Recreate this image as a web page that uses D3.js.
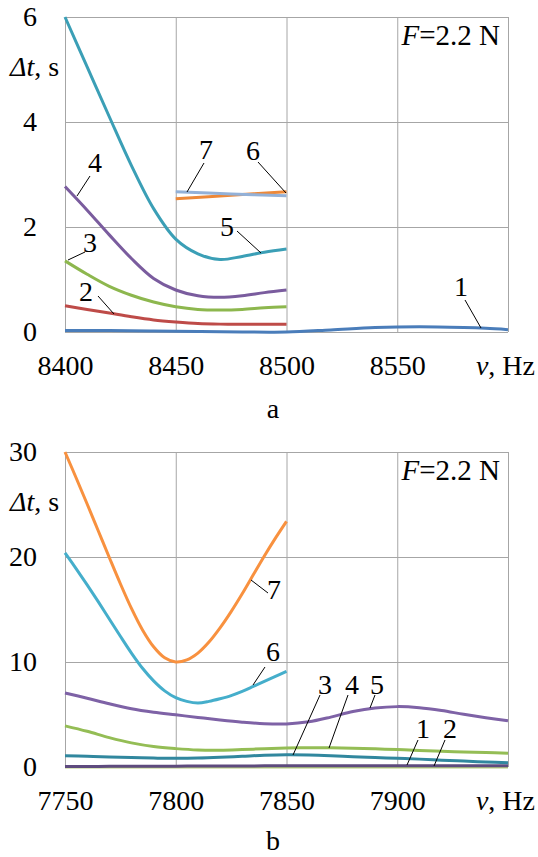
<!DOCTYPE html>
<html>
<head>
<meta charset="utf-8">
<script src="https://cdn.jsdelivr.net/npm/d3@7"></script>
<style>
  html, body { margin: 0; padding: 0; background: #fff; }
  svg text { font-family: "Liberation Serif", "Times New Roman", "DejaVu Serif", serif; fill: #000; }
</style>
</head>
<body>
<svg id="chart" width="538" height="857"></svg>
<script>
// ---------- Panel a (F = 2.2 N, 8400–8600 Hz) ----------
const aXTicks = [8400, 8450, 8500, 8550, 8600];
const aYTicks = [0, 2, 4, 6];
const aFreq = [8400, 8410, 8420, 8430, 8440, 8450, 8460, 8470, 8480, 8490, 8500];
const aFreq1 = [8400, 8420, 8440, 8460, 8480, 8500, 8520, 8540, 8560, 8580, 8590, 8600];
const aFreq67 = [8450, 8475, 8500];
const a1 = [0.03, 0.03, 0.02, 0.01, 0.0, 0.0, 0.04, 0.085, 0.10, 0.085, 0.07, 0.045];
const a2 = [0.50, 0.43, 0.36, 0.29, 0.23, 0.19, 0.16, 0.15, 0.15, 0.15, 0.15];
const a3 = [1.355, 1.10, 0.87, 0.70, 0.57, 0.48, 0.43, 0.42, 0.43, 0.46, 0.48];
const a4 = [2.77, 2.32, 1.85, 1.40, 1.02, 0.80, 0.69, 0.66, 0.69, 0.75, 0.80];
const a5 = [6.0, 5.05, 4.10, 3.17, 2.35, 1.77, 1.49, 1.38, 1.44, 1.52, 1.58];
const a6 = [2.54, 2.605, 2.67];
const a7 = [2.67, 2.63, 2.595];

// ---------- Panel b (F = 2.2 N, 7750–7950 Hz) ----------
const bXTicks = [7750, 7800, 7850, 7900, 7950];
const bYTicks = [0, 10, 20, 30];
const bFreq = [7750, 7760, 7770, 7780, 7790, 7800, 7810, 7820, 7830, 7840, 7850,
               7860, 7870, 7880, 7890, 7900, 7910, 7920, 7930, 7940, 7950];
const bFreq67 = [7750, 7755, 7760, 7765, 7770, 7775, 7780, 7785, 7790, 7795, 7800,
                 7805, 7810, 7815, 7820, 7825, 7830, 7835, 7840, 7845, 7850];
const b1 = [0.04, 0.05, 0.06, 0.07, 0.08, 0.08, 0.09, 0.1, 0.1, 0.11, 0.11,
            0.12, 0.12, 0.13, 0.13, 0.13, 0.13, 0.13, 0.13, 0.13, 0.13];
const b2 = [0.0, 0.0, 0.0, 0.0, 0.0, 0.0, 0.0, 0.0, 0.0, 0.0, 0.0,
            0.0, 0.0, 0.0, 0.0, 0.0, 0.0, 0.0, 0.0, 0.0, 0.0];
const b3 = [1.08, 1.02, 0.95, 0.90, 0.85, 0.83, 0.85, 0.92, 1.02, 1.12, 1.17,
            1.15, 1.08, 0.98, 0.90, 0.83, 0.75, 0.65, 0.56, 0.48, 0.41];
const b4 = [3.92, 3.40, 2.80, 2.30, 1.95, 1.75, 1.62, 1.60, 1.66, 1.74, 1.80,
            1.83, 1.83, 1.79, 1.73, 1.66, 1.58, 1.50, 1.43, 1.37, 1.32];
const b5 = [7.05, 6.55, 6.02, 5.55, 5.22, 4.97, 4.72, 4.48, 4.27, 4.12, 4.10,
            4.30, 4.75, 5.28, 5.62, 5.75, 5.65, 5.38, 5.02, 4.70, 4.40];
const b6 = [20.4, 18.9, 17.35, 15.75, 14.1, 12.45, 10.85, 9.4, 8.2, 7.25, 6.6,
            6.25, 6.1, 6.25, 6.5, 6.8, 7.2, 7.67, 8.15, 8.62, 9.1];
const b7 = [30.0, 27.55, 25.05, 22.5, 19.95, 17.45, 15.1, 13.05, 11.45, 10.4, 10.0,
            10.2, 10.85, 11.9, 13.25, 14.8, 16.5, 18.3, 20.1, 21.8, 23.4];

const forceLabel = "=2.2 N";
const panelNames = ["a", "b"];

const svg = d3.select("#chart");
const FS = 28;
const FONT = '"Liberation Serif", "Times New Roman", "DejaVu Serif", serif';

function drawPanel(cfg) {
  const x = d3.scaleLinear().domain(cfg.xDomain).range([65, 508]);
  const y = d3.scaleLinear().domain(cfg.yDomain).range([cfg.bottom, cfg.bottom - 315]);
  const g = svg.append("g").attr("font-family", FONT);

  const xAxis = d3.axisBottom(x).tickValues(cfg.xTicks)
    .tickSizeInner(-315).tickSizeOuter(0).tickPadding(23)
    .tickFormat(d => d === cfg.xTicks[cfg.xTicks.length - 1] ? "" : d);
  const gx = g.append("g").attr("transform", `translate(0,${cfg.bottom})`).call(xAxis)
    .attr("font-family", FONT).attr("font-size", FS);
  gx.select(".domain").remove();
  gx.selectAll("line").attr("stroke", "#A6A6A6").attr("stroke-width", 1);
  gx.selectAll("text").attr("fill", "#000");

  const yAxis = d3.axisLeft(y).tickValues(cfg.yTicks)
    .tickSizeInner(-443).tickSizeOuter(0).tickPadding(28)
    .tickFormat(d => d);
  const gy = g.append("g").attr("transform", `translate(65,0)`).call(yAxis)
    .attr("font-family", FONT).attr("font-size", FS);
  gy.select(".domain").remove();
  gy.selectAll("line").attr("stroke", "#A6A6A6").attr("stroke-width", 1);
  gy.selectAll("text").attr("fill", "#000");

  const line = d3.line().x(d => x(d[0])).y(d => y(d[1])).curve(d3.curveCatmullRom.alpha(0.5));
  cfg.series.forEach(s => {
    g.append("path")
      .datum(s.f.map((f, i) => [f, s.v[i]]))
      .attr("fill", "none").attr("stroke", s.color).attr("stroke-width", 3)
      .attr("d", line);
  });

  cfg.labels.forEach(l => {
    g.append("line")
      .attr("x1", l.lx1).attr("y1", l.ly1).attr("x2", l.lx2).attr("y2", l.ly2)
      .attr("stroke", "#000").attr("stroke-width", 1);
    g.append("text").attr("x", l.tx).attr("y", l.ty)
      .attr("text-anchor", "middle").attr("font-size", FS).text(l.text);
  });

  const top = cfg.bottom - 315;
  const yt = g.append("text").attr("x", 10).attr("y", top + 59).attr("font-size", FS);
  yt.append("tspan").attr("font-style", "italic").text("Δt");
  yt.append("tspan").text(", s");

  const xt = g.append("text").attr("x", 535).attr("y", cfg.bottom + 42.5)
    .attr("text-anchor", "end").attr("font-size", FS);
  xt.append("tspan").attr("font-style", "italic").text("ν");
  xt.append("tspan").text(", Hz");

  const ft = g.append("text").attr("x", 500).attr("y", top + 28)
    .attr("text-anchor", "end").attr("font-size", 29);
  ft.append("tspan").attr("font-style", "italic").text("F");
  ft.append("tspan").text(forceLabel);

  g.append("text").attr("x", 273).attr("y", cfg.captionY)
    .attr("text-anchor", "middle").attr("font-size", FS).text(cfg.caption);
}

drawPanel({
  xDomain: [8400, 8600], yDomain: [0, 6], bottom: 332,
  xTicks: aXTicks, yTicks: aYTicks, caption: panelNames[0], captionY: 418,
  series: [
    { f: aFreq1, v: a1, color: "#4A7DBA" },
    { f: aFreq, v: a2, color: "#BE4B48" },
    { f: aFreq, v: a3, color: "#8DB74E" },
    { f: aFreq, v: a4, color: "#7A5C9E" },
    { f: aFreq, v: a5, color: "#3B9FB6" },
    { f: aFreq67, v: a6, color: "#ED8838" },
    { f: aFreq67, v: a7, color: "#93B1D8" }
  ],
  labels: [
    { text: "1", tx: 461, ty: 296, lx1: 465, ly1: 300, lx2: 481, ly2: 328 },
    { text: "2", tx: 86, ty: 301, lx1: 98, ly1: 296, lx2: 114, ly2: 314 },
    { text: "3", tx: 90, ty: 252, lx1: 85, ly1: 252, lx2: 68, ly2: 260 },
    { text: "4", tx: 95, ty: 172, lx1: 90, ly1: 176, lx2: 77, ly2: 196 },
    { text: "5", tx: 227, ty: 236, lx1: 237, ly1: 231, lx2: 261, ly2: 253 },
    { text: "6", tx: 253, ty: 160, lx1: 258, ly1: 162, lx2: 286, ly2: 193 },
    { text: "7", tx: 206, ty: 159, lx1: 204, ly1: 163, lx2: 187, ly2: 192 }
  ]
});

drawPanel({
  xDomain: [7750, 7950], yDomain: [0, 30], bottom: 767,
  xTicks: bXTicks, yTicks: bYTicks, caption: panelNames[1], captionY: 850,
  series: [
    { f: bFreq, v: b2, color: "#B5CC7C" },
    { f: bFreq, v: b1, color: "#5E4B7E" },
    { f: bFreq, v: b3, color: "#31879E" },
    { f: bFreq, v: b4, color: "#94BD55" },
    { f: bFreq, v: b5, color: "#7E62A6" },
    { f: bFreq67, v: b6, color: "#45AECB" },
    { f: bFreq67, v: b7, color: "#F8913F" }
  ],
  labels: [
    { text: "1", tx: 423, ty: 738, lx1: 418, ly1: 740, lx2: 407, ly2: 765 },
    { text: "2", tx: 450, ty: 738, lx1: 445, ly1: 740, lx2: 434, ly2: 766 },
    { text: "3", tx: 325, ty: 694, lx1: 320, ly1: 695, lx2: 293, ly2: 755 },
    { text: "4", tx: 352, ty: 694, lx1: 348, ly1: 695, lx2: 329, ly2: 748 },
    { text: "5", tx: 377, ty: 694, lx1: 375, ly1: 695, lx2: 370, ly2: 708 },
    { text: "6", tx: 273, ty: 661, lx1: 265, ly1: 667, lx2: 253, ly2: 685 },
    { text: "7", tx: 274, ty: 599, lx1: 251, ly1: 580, lx2: 268, ly2: 593 }
  ]
});
</script>
</body>
</html>
